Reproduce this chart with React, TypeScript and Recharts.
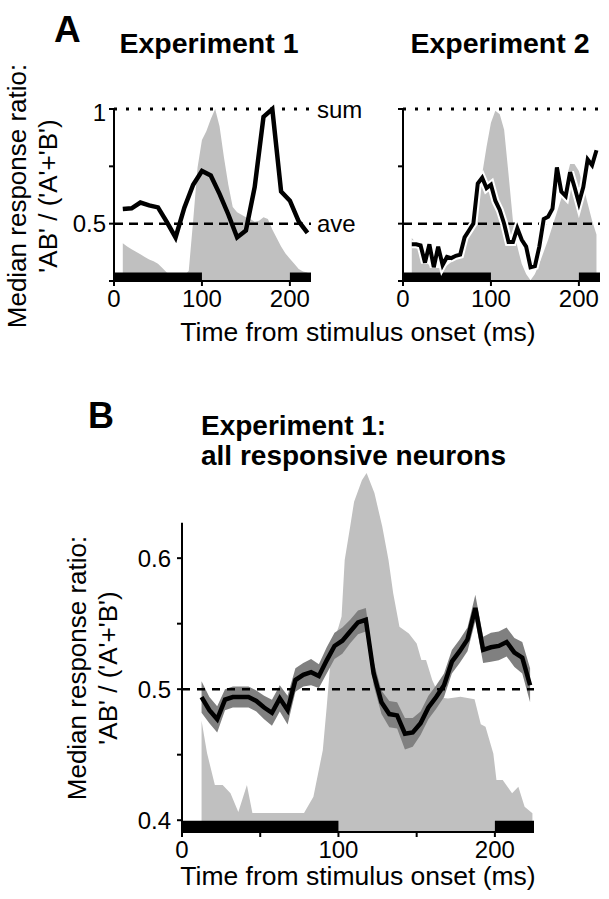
import React from 'react';
import { ComposedChart, Line, Area, XAxis, YAxis, ReferenceLine, ReferenceArea } from 'recharts';

const FONT = '"Liberation Sans", Arial, Helvetica, sans-serif';

// Panel A, experiment 1 (10 ms bins): median ratio
const timesA1 = [10, 20, 30, 40, 50, 60, 70, 80, 90, 100, 110, 120, 130, 140, 150, 160, 170, 180, 190, 200, 210, 220];
const ratioA1 = [0.564, 0.567, 0.592, 0.58, 0.571, 0.508, 0.44, 0.57, 0.67, 0.73, 0.71, 0.63, 0.54, 0.44, 0.47, 0.66, 0.966, 1.0, 0.64, 0.6, 0.51, 0.46];

// 5 ms grid used by the population response and by experiment 2
const times5 = [10, 15, 20, 25, 30, 35, 40, 45, 50, 55, 60, 65, 70, 75, 80, 85, 90, 95, 100, 105, 110, 115, 120, 125, 130, 135, 140, 145, 150, 155, 160, 165, 170, 175, 180, 185, 190, 195, 200, 205, 210, 215, 220];
// normalised population response (grey), experiment 1
const rateA1 = [0.22, 0.2, 0.185, 0.17, 0.155, 0.14, 0.125, 0.115, 0.1, 0.075, 0.05, 0.035, 0.03, 0.03, 0.03, 0.06, 0.35, 0.66, 0.82, 0.87, 0.94, 1.0, 0.9, 0.72, 0.56, 0.43, 0.4, 0.385, 0.37, 0.36, 0.345, 0.35, 0.37, 0.36, 0.3, 0.25, 0.2, 0.16, 0.13, 0.1, 0.07, 0.055, 0.05];

// Panel A, experiment 2
const ratioA2 = [0.41, 0.41, 0.405, 0.33, 0.41, 0.31, 0.4, 0.32, 0.355, 0.35, 0.36, 0.365, 0.44, 0.47, 0.5, 0.675, 0.7, 0.655, 0.67, 0.6, 0.56, 0.5, 0.42, 0.42, 0.48, 0.43, 0.4, 0.31, 0.315, 0.4, 0.52, 0.53, 0.565, 0.745, 0.64, 0.62, 0.725, 0.66, 0.59, 0.66, 0.78, 0.755, 0.82];
const rateA2 = [0.25, 0.22, 0.17, 0.12, 0.09, 0.075, 0.075, 0.08, 0.09, 0.11, 0.15, 0.19, 0.24, 0.28, 0.34, 0.45, 0.62, 0.78, 0.92, 0.99, 0.97, 0.88, 0.62, 0.35, 0.2, 0.1, 0.04, 0.005, 0.04, 0.1, 0.17, 0.24, 0.32, 0.4, 0.48, 0.58, 0.68, 0.68, 0.64, 0.55, 0.45, 0.35, 0.27];

// Panel B, all responsive neurons
const timesB = [12.5, 17.5, 22.5, 27.5, 32.5, 37.5, 42.5, 47.5, 52.5, 57.5, 62.5, 67.5, 72.5, 77.5, 82.5, 87.5, 92.5, 97.5, 102.5, 107.5, 112.5, 117.5, 122.5, 127.5, 132.5, 137.5, 142.5, 147.5, 152.5, 157.5, 162.5, 167.5, 172.5, 177.5, 182.5, 187.5, 192.5, 197.5, 202.5, 207.5, 212.5, 217.5, 222.5];
const ratioB = [0.494, 0.484, 0.477, 0.492, 0.494, 0.494, 0.494, 0.491, 0.486, 0.482, 0.493, 0.484, 0.507, 0.511, 0.513, 0.51, 0.522, 0.533, 0.537, 0.544, 0.551, 0.553, 0.512, 0.49, 0.481, 0.48, 0.466, 0.467, 0.474, 0.486, 0.494, 0.503, 0.521, 0.529, 0.538, 0.562, 0.53, 0.532, 0.533, 0.536, 0.528, 0.524, 0.503];
const semB = [0.012, 0.01, 0.01, 0.008, 0.008, 0.008, 0.008, 0.008, 0.009, 0.01, 0.01, 0.011, 0.009, 0.009, 0.01, 0.009, 0.01, 0.01, 0.01, 0.009, 0.009, 0.009, 0.009, 0.009, 0.01, 0.01, 0.012, 0.011, 0.009, 0.009, 0.009, 0.009, 0.009, 0.009, 0.009, 0.01, 0.01, 0.011, 0.011, 0.011, 0.011, 0.012, 0.013];
const rateTimesB = [12.5, 16, 21, 26, 31, 36, 41.5, 45, 50, 60, 70, 78, 84, 90, 92.5, 95, 97.5, 100, 102, 104, 107.5, 110, 115, 118, 123, 128, 132, 135, 139, 145, 150, 153, 156, 160, 165, 170, 178, 187, 191, 194, 199, 201, 205, 211, 215, 219, 224];
const rateB = [0.31, 0.22, 0.131, 0.131, 0.108, 0.056, 0.131, 0.053, 0.053, 0.053, 0.053, 0.053, 0.098, 0.228, 0.349, 0.48, 0.54, 0.57, 0.6, 0.758, 0.851, 0.92, 0.98, 1.0, 0.944, 0.851, 0.758, 0.665, 0.572, 0.553, 0.525, 0.479, 0.479, 0.423, 0.375, 0.372, 0.377, 0.37, 0.3, 0.293, 0.219, 0.145, 0.145, 0.108, 0.126, 0.07, 0.052];

// stimulus presentation periods (ms)
const stimulusA = [{ from: 0, to: 100 }, { from: 200, to: 224 }];
const stimulusB = [{ from: 0, to: 100 }, { from: 200, to: 225 }];

const zip = (ts: number[], vs: number[]) => ts.map((t, i) => ({ t, v: vs[i] }));

const axisStroke = { stroke: '#000', strokeWidth: 2 };
const tickStyle = { fill: '#000', fontSize: 24, fontFamily: FONT };
const LIGHT = '#c0c0c0';
const DARK = '#808080';

function PanelA({ ratio, rate, labels, halo }: { ratio: { t: number; v: number }[]; rate: { t: number; v: number }[]; labels: boolean; halo: boolean }) {
  const refLabel = (value: string) =>
    labels ? { value, position: 'right' as const, fill: '#000', fontSize: 24, fontFamily: FONT, offset: 6 } : undefined;
  return (
    <ComposedChart width={labels ? 325 : 213} height={212} margin={{ top: 10, right: labels ? 68 : 6, left: 0, bottom: 0 }}>
      <XAxis type="number" dataKey="t" domain={[0, 224]} ticks={[0, 100, 200]} allowDataOverflow height={30}
        tickSize={5} tickMargin={4} axisLine={axisStroke} tickLine={axisStroke} tick={tickStyle} />
      <YAxis yAxisId="ratio" type="number" domain={[0.25, 1]} ticks={[0.25, 0.5, 0.75, 1]} width={labels ? 60 : 10}
        tickFormatter={(v: number) => (labels && (v === 1 || v === 0.5) ? String(v) : '')}
        tickSize={5} tickMargin={3} axisLine={axisStroke} tickLine={axisStroke} tick={tickStyle} />
      <YAxis yAxisId="rate" orientation="right" width={0} hide domain={[0, 1]} />
      <Area yAxisId="rate" data={rate} dataKey="v" type="linear" fill={LIGHT} fillOpacity={1} stroke="none" isAnimationActive={false} />
      <ReferenceLine yAxisId="ratio" y={1} stroke="#000" strokeWidth={3} strokeDasharray="3 9" label={refLabel('sum')} />
      <ReferenceLine yAxisId="ratio" y={0.5} stroke="#000" strokeWidth={2.5} strokeDasharray="9 6" label={refLabel('ave')} />
      {halo && (
        <Line yAxisId="ratio" data={ratio} dataKey="v" type="linear" stroke="#fff" strokeWidth={8} dot={false} activeDot={false} isAnimationActive={false} />
      )}
      <Line yAxisId="ratio" data={ratio} dataKey="v" type="linear" stroke="#000" strokeWidth={halo ? 4 : 4.5} dot={false} activeDot={false} isAnimationActive={false} />
      {stimulusA.map((s) => (
        <ReferenceArea key={s.from} yAxisId="ratio" x1={s.from} x2={s.to} y1={0.25} y2={0.287} fill="#000" fillOpacity={1} stroke="none" />
      ))}
    </ComposedChart>
  );
}

function PanelB() {
  const line = zip(timesB, ratioB);
  const band = timesB.map((t, i) => ({ t, band: [ratioB[i] - semB[i], ratioB[i] + semB[i]] }));
  const rate = zip(rateTimesB, rateB);
  return (
    <ComposedChart width={422} height={394} margin={{ top: 5, right: 10, left: 0, bottom: 0 }}>
      <XAxis type="number" dataKey="t" domain={[0, 225]} ticks={[0, 50, 100, 150, 200]} allowDataOverflow height={30}
        tickFormatter={(v: number) => (v % 100 === 0 ? String(v) : '')}
        tickSize={5} tickMargin={4} axisLine={axisStroke} tickLine={axisStroke} tick={tickStyle} />
      <YAxis yAxisId="ratio" type="number" domain={[0.391, 0.665]} ticks={[0.4, 0.45, 0.5, 0.55, 0.6]} width={60}
        tickFormatter={(v: number) => (Math.round(v * 100) % 10 === 0 ? v.toFixed(1) : '')}
        tickSize={5} tickMargin={6} axisLine={false} tickLine={axisStroke} tick={tickStyle} />
      <YAxis yAxisId="rate" orientation="right" width={0} hide domain={[0, 1]} />
      <Area yAxisId="rate" data={rate} dataKey="v" type="linear" fill={LIGHT} fillOpacity={1} stroke="none" isAnimationActive={false} />
      <Area yAxisId="ratio" data={band} dataKey="band" type="linear" fill={DARK} fillOpacity={1} stroke="none" isAnimationActive={false} />
      <ReferenceLine yAxisId="ratio" y={0.5} stroke="#000" strokeWidth={2.5} strokeDasharray="8 7" />
      <Line yAxisId="ratio" data={line} dataKey="v" type="linear" stroke="#000" strokeWidth={4.5} dot={false} activeDot={false} isAnimationActive={false} />
      <ReferenceLine yAxisId="ratio" ifOverflow="visible" segment={[{ x: 0, y: 0.391 }, { x: 0, y: 0.627 }]} stroke="#000" strokeWidth={2} />
      {stimulusB.map((s) => (
        <ReferenceArea key={s.from} yAxisId="ratio" x1={s.from} x2={s.to} y1={0.391} y2={0.3995} fill="#000" fillOpacity={1} stroke="none" />
      ))}
    </ComposedChart>
  );
}

export default function App() {
  const txt = { fontFamily: FONT, fill: '#000' };
  return (
    <div style={{ position: 'absolute', left: 0, top: 0, width: 609, height: 899, background: '#fff', overflow: 'hidden' }}>
      <div style={{ position: 'absolute', left: 54, top: 99 }}>
        <PanelA ratio={zip(timesA1, ratioA1)} rate={zip(times5, rateA1)} labels halo={false} />
      </div>
      <div style={{ position: 'absolute', left: 393, top: 99 }}>
        <PanelA ratio={zip(times5, ratioA2)} rate={zip(times5, rateA2)} labels={false} halo />
      </div>
      <div style={{ position: 'absolute', left: 122, top: 468 }}>
        <PanelB />
      </div>
      <svg width={609} height={899} style={{ position: 'absolute', left: 0, top: 0, pointerEvents: 'none' }}>
        <text x={54} y={42} fontSize={37} fontWeight="bold" {...txt}>A</text>
        <text x={209} y={53} fontSize={28.5} fontWeight="bold" textAnchor="middle" {...txt}>Experiment 1</text>
        <text x={500} y={53} fontSize={28.5} fontWeight="bold" textAnchor="middle" {...txt}>Experiment 2</text>
        <text transform="translate(26 196) rotate(-90)" fontSize={26} textAnchor="middle" {...txt}>Median response ratio:</text>
        <text transform="translate(57 196) rotate(-90)" fontSize={26} textAnchor="middle" {...txt}>'AB' / ('A'+'B')</text>
        <text x={358} y={341} fontSize={26.5} textAnchor="middle" {...txt}>Time from stimulus onset (ms)</text>

        <text x={88} y={428} fontSize={36} fontWeight="bold" {...txt}>B</text>
        <text x={201} y={435} fontSize={28} fontWeight="bold" {...txt}>Experiment 1:</text>
        <text x={201} y={465} fontSize={28} fontWeight="bold" {...txt}>all responsive neurons</text>
        <text transform="translate(86 668) rotate(-90)" fontSize={26} textAnchor="middle" {...txt}>Median response ratio:</text>
        <text transform="translate(117 668) rotate(-90)" fontSize={26} textAnchor="middle" {...txt}>'AB' / ('A'+'B')</text>
        <text x={358} y={885} fontSize={26.5} textAnchor="middle" {...txt}>Time from stimulus onset (ms)</text>
      </svg>
    </div>
  );
}
